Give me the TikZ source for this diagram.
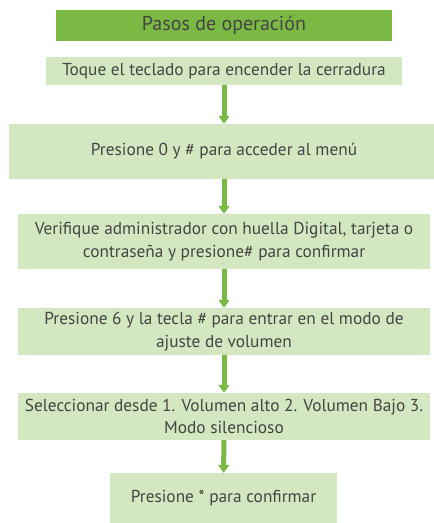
\documentclass[tikz,border=0pt]{standalone}
\usepackage{fontspec}
\setmainfont{PT Sans}
\usetikzlibrary{arrows.meta}
\definecolor{dkgreen}{HTML}{7AB943}
\definecolor{ltgreen}{HTML}{D3E7C0}
\definecolor{txtgray}{HTML}{454545}

\begin{document}
\begin{tikzpicture}[x=1pt,y=-1pt,
    stepbox/.style={fill=ltgreen,text=txtgray,inner sep=0pt,align=center,
      font=\fontsize{17.3}{22.5}\selectfont},
    flow/.style={dkgreen,line width=5pt,-{Triangle[width=11pt,length=8pt]}}]
    \useasboundingbox[fill=white](0,0) rectangle (434,523);
    \node[fill=dkgreen,text=txtgray,minimum width=336pt,minimum height=31pt,
      font=\fontsize{20}{24}\selectfont](title) at (224,25.5){Pasos de operaci\'on};
    \node[stepbox,minimum width=356pt,minimum height=28pt](s1) at (224,71)
      {Toque el teclado para encender la cerradura};
    \node[stepbox,minimum width=430pt,minimum height=55pt](s2) at (224,151.5)
      {Presione 0 y \# para acceder al men\'u};
    \node[stepbox,minimum width=412pt,minimum height=55pt](s3) at (224,241.5)
      {Verifique administrador con huella Digital, tarjeta o\\contrase\~na y presione\# para confirmar};
    \node[stepbox,minimum width=412pt,minimum height=47pt](s4) at (224,331.5)
      {Presione 6 y la tecla \# para entrar en el modo de\\ajuste de volumen};
    \node[stepbox,minimum width=412pt,minimum height=47pt](s5) at (224,416.5)
      {Seleccionar desde 1. Volumen alto 2. Volumen Bajo 3.\\Modo silencioso};
    \node[stepbox,minimum width=227pt,minimum height=50pt](s6) at (223.5,498)
      {Presione * para confirmar};
    \draw[flow](s1)--(s2);
    \draw[flow](s2)--(s3);
    \draw[flow](s3)--(s4);
    \draw[flow](s4)--(s5);
    \draw[flow](s5)--(s6);
  \end{tikzpicture}
\end{document}
